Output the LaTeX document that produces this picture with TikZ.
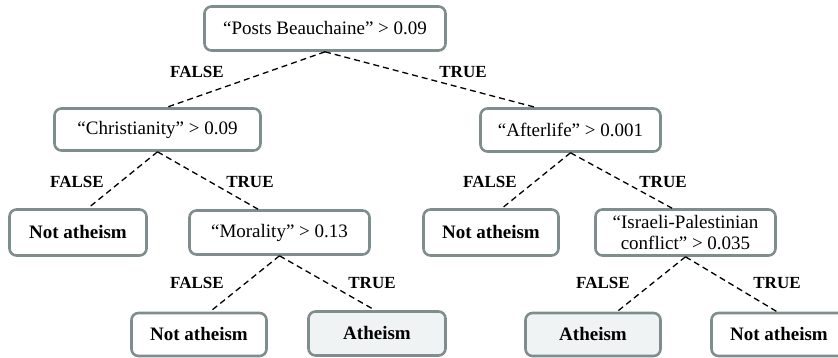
\documentclass[tikz,border=0pt]{standalone}
\usepackage{fontspec}
\setmainfont{Liberation Serif}
\usepackage{tikz}
\usepackage{xcolor}
\definecolor{edgegray}{HTML}{7F8E8D}
\definecolor{leafgray}{HTML}{EFF3F3}
\tikzstyle{box} = [rectangle, rounded corners=7pt, inner sep=0pt, align=center, draw=edgegray, line width=2.6pt, fill=white, font=\fontsize{19}{21.5}\selectfont]
\tikzstyle{leaf} = [box, font=\bfseries\fontsize{19}{21.5}\selectfont]
\tikzstyle{hit} = [leaf, fill=leafgray]
\tikzstyle{branch} = [line width=1.3pt, dash pattern=on 6pt off 4pt]
\tikzstyle{lbl} = [font=\bfseries\fontsize{17}{20}\selectfont, inner sep=0pt]

\begin{document}
\begin{tikzpicture}[x=1pt,y=-1pt]
\clip (0,0) rectangle (838,358);

% Nodes
\node (root) [box, minimum width=241pt, minimum height=44pt] at (325,28.5) {“Posts Beauchaine” > 0.09}; % Top
\node (christ) [box, minimum width=206pt, minimum height=42pt] at (157.5,129.5) {“Christianity” > 0.09};
\node (after) [box, minimum width=180pt, minimum height=43pt] at (570.5,130) {“Afterlife” > 0.001};
\node (notA) [leaf, minimum width=137pt, minimum height=46pt] at (78,232.5) {Not atheism};
\node (moral) [box, minimum width=180pt, minimum height=44pt] at (279.5,232.5) {“Morality” > 0.13};
\node (notB) [leaf, minimum width=135pt, minimum height=46pt] at (491,232.5) {Not atheism};
\node (israel) [box, minimum width=180pt, minimum height=46pt] at (685.5,232.5) {“Israeli-Palestinian\\conflict” > 0.035};
\node (notC) [leaf, minimum width=135pt, minimum height=43pt] at (199,334.5) {Not atheism}; % Bottom row
\node (athA) [hit, minimum width=137pt, minimum height=44pt] at (377,333.5) {Atheism};
\node (athB) [hit, minimum width=135pt, minimum height=43pt] at (593,334.5) {Atheism};
\node (notD) [leaf, minimum width=135pt, minimum height=43pt] at (779,334.5) {Not atheism};

% Branch labels
\node (f0) [lbl] at (197,72) {FALSE};
\node (t0) [lbl] at (463,72) {TRUE};
\node (f1) [lbl] at (77,182) {FALSE};
\node (t1) [lbl] at (250,182) {TRUE};
\node (f2) [lbl] at (490,182) {FALSE};
\node (t2) [lbl] at (663,182) {TRUE};
\node (f3) [lbl] at (197,283) {FALSE};
\node (t3) [lbl] at (372,283) {TRUE};
\node (f4) [lbl] at (603,283) {FALSE};
\node (t4) [lbl] at (777,283) {TRUE};

% Branches
\draw [branch] (root.south) -- ([xshift=9.5pt]christ.north);
\draw [branch] (root.south) -- ([xshift=-35.5pt]after.north);
\draw [branch] (christ.south) -- ([xshift=10pt]notA.north);
\draw [branch] (christ.south) -- ([xshift=-21.5pt]moral.north);
\draw [branch] (moral.south) -- ([xshift=11pt]notC.north);
\draw [branch] (moral.south) -- ([xshift=-2pt]athA.north);
\draw [branch] (after.south) -- ([xshift=11pt]notB.north);
\draw [branch] (after.south) -- ([xshift=-13.5pt]israel.north);
\draw [branch] (israel.south) -- ([xshift=24pt]athB.north);
\draw [branch] (israel.south) -- ([xshift=-2pt]notD.north);

\end{tikzpicture}
\end{document}
